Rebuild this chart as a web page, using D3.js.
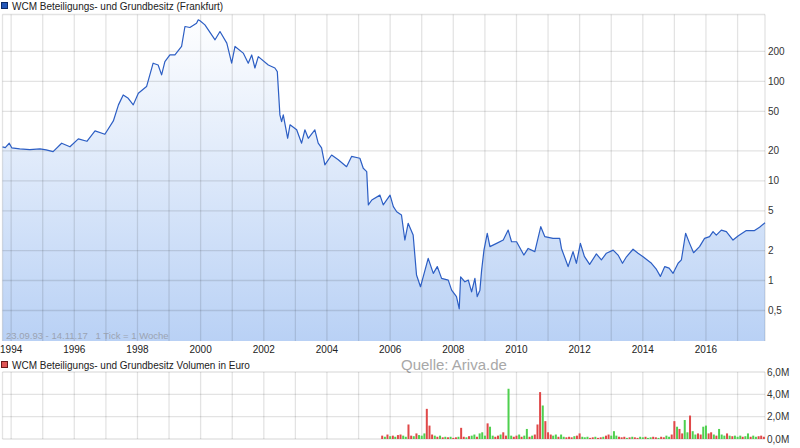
<!DOCTYPE html>
<html><head><meta charset="utf-8">
<script src="https://cdn.jsdelivr.net/npm/d3@7"></script>
<style>body{margin:0;background:#fff}svg{display:block;font-family:"Liberation Sans",Arial,sans-serif}</style>
</head><body><svg id="c" width="800" height="448"></svg>
<script>
// ---- data ----
const titleMain = "WCM Beteiligungs- und Grundbesitz (Frankfurt)";
const titleVol = "WCM Beteiligungs- und Grundbesitz Volumen in Euro";
const priceDates = ["1993-09-23","1993-10-25","1993-12-10","1994-01-08","1994-04-10","1994-08-05","1994-12-01","1995-02-10","1995-05-01","1995-08-08","1995-11-12","1996-02-17","1996-05-26","1996-08-28","1996-12-20","1997-03-28","1997-05-26","1997-07-20","1997-09-16","1997-11-13","1998-01-11","1998-04-16","1998-07-01","1998-08-28","1998-10-07","1998-11-14","1999-01-11","1999-03-10","1999-05-26","1999-07-04","1999-08-30","1999-11-15","1999-12-05","1999-12-25","2000-02-20","2000-06-16","2000-08-12","2000-10-30","2000-12-25","2001-02-02","2001-05-08","2001-07-05","2001-08-14","2001-09-20","2001-10-29","2002-02-22","2002-05-09","2002-06-06","2002-07-06","2002-07-26","2002-08-14","2002-10-04","2002-10-31","2003-01-16","2003-03-14","2003-04-21","2003-05-30","2003-08-14","2003-09-22","2003-10-31","2003-12-08","2004-02-24","2004-05-11","2004-08-15","2004-10-12","2005-01-16","2005-02-24","2005-04-05","2005-04-24","2005-06-03","2005-09-05","2005-10-13","2005-12-31","2006-02-07","2006-03-18","2006-05-12","2006-06-20","2006-07-28","2006-09-24","2006-11-02","2006-12-18","2007-01-18","2007-03-17","2007-05-15","2007-06-30","2007-08-19","2007-11-04","2007-12-13","2008-02-07","2008-03-10","2008-03-26","2008-05-15","2008-06-23","2008-07-31","2008-09-07","2008-10-04","2008-11-04","2008-11-24","2008-12-21","2009-01-28","2009-02-28","2009-05-16","2009-08-01","2009-09-27","2009-11-05","2010-01-02","2010-03-27","2010-05-16","2010-08-01","2010-10-09","2010-11-24","2011-02-28","2011-05-16","2011-06-05","2011-08-21","2011-10-17","2011-11-25","2012-01-10","2012-02-25","2012-04-26","2012-07-13","2012-09-09","2012-11-06","2013-01-23","2013-03-21","2013-05-11","2013-06-26","2013-09-10","2013-11-07","2014-01-04","2014-04-11","2014-06-08","2014-07-23","2014-09-12","2014-11-01","2014-12-17","2015-02-13","2015-03-23","2015-05-11","2015-06-26","2015-08-11","2015-10-19","2015-12-16","2016-02-12","2016-03-23","2016-04-30","2016-06-27","2016-08-24","2016-11-09","2017-01-06","2017-04-12","2017-07-16","2017-09-12","2017-11-14"];
const priceValues = [22,21.6,23.9,21.5,21,20.6,21,20.5,19.7,23.9,22,26.4,25,31.8,29.4,40,58,73,67.5,58,76,88.6,152,146,116,158,184,184,224,355,347,383,415,406,369,261,316,242,152,224,192,152,184,136,177,146,136,125,46,39.4,46,26.8,36.6,32.6,23.9,32.6,26.8,32.6,23.9,21.5,14.5,18.2,16.3,13.9,17.6,16.9,13.4,12.4,5.74,6.43,7.2,5.74,7.2,5.52,4.9,4.55,2.55,3.75,2.86,1.135,0.866,1.09,1.67,1.18,1.38,1.05,1.01,0.8,0.69,0.52,1.09,0.97,1.01,0.77,1.05,0.69,0.8,1.27,2.02,2.98,2.19,2.36,2.55,3.21,2.45,2.45,1.8,2.1,1.95,3.47,2.76,2.65,2.65,2.1,1.38,1.95,1.49,2.36,1.75,1.45,1.85,1.61,1.88,2.02,1.8,1.49,1.73,2.06,1.88,1.73,1.49,1.29,1.1,1.38,1.33,1.18,1.49,1.61,2.98,2.36,1.9,2.19,2.65,2.76,3.1,2.86,3.21,3.1,2.55,2.8,3.17,3.17,3.43,3.8];
// monthly volume (Mio. Euro), starting 2005-10
const volStart = "2005-10-01";
const volValues = [0.3,0.2,0.4,0.25,0.3,0.2,0.35,0.4,0.3,0.2,1.3,0.3,0.25,0.5,0.35,0.3,0.5,2.7,1.2,0.4,0.3,0.2,0.3,0.15,0.2,0.15,0.2,0.1,0.15,0.2,1.0,0.2,0.15,0.25,0.3,0.4,0.2,0.5,0.6,0.3,1.4,1.1,0.3,0.2,0.3,0.4,0.6,0.3,4.5,0.3,0.2,0.3,0.4,0.2,0.3,0.9,0.2,0.3,0.4,1.3,4.2,3.0,1.6,0.6,0.4,0.3,0.4,0.2,0.4,0.2,0.15,0.2,0.15,0.25,0.3,0.5,0.2,0.15,0.2,0.1,0.15,0.2,0.1,0.15,0.2,0.3,0.4,0.3,0.7,0.3,0.2,0.15,0.2,0.1,0.15,0.2,0.15,0.1,0.2,0.15,0.2,0.1,0.15,0.2,0.15,0.1,0.2,0.15,0.3,0.2,0.4,1.6,1.1,0.9,0.5,1.7,0.6,2.1,0.7,0.4,0.5,0.4,1.1,1.2,0.5,0.6,0.4,0.3,0.9,0.4,0.3,0.5,0.3,0.25,0.3,0.2,0.3,0.2,0.25,0.5,0.2,0.3,0.2,0.25,0.3,0.2];
const volDir = "dudududduudduduuudddududududdudduduuduuuduuddudduudduduududdduddduuduudddudduuudduddudduuudddududduuduuddudduuddudduuduudduudduduuududuuuduuduu";
const yTickValues = [0.5,1,2,5,10,20,50,100,200];
const yTickLabels = ["0,5","1","2","5","10","20","50","100","200"];
const xLabelYears = [1994,1996,1998,2000,2002,2004,2006,2008,2010,2012,2014,2016];
const volTickValues = [0,2,4,6];
const volTickLabels = ["0,0M","2,0M","4,0M","6,0M"];
const infoText = "23.09.93 - 14.11.17   1 Tick = 1 Woche";
const sourceText = "Quelle: Ariva.de";

// ---- chart ----
const parse = d3.timeParse("%Y-%m-%d");
const prices = priceDates.map((d,i)=>({date:parse(d), v:priceValues[i]}));
const vStart = parse(volStart);
const vols = volValues.map((v,i)=>({date:d3.timeMonth.offset(vStart,i), v:v, up: volDir[i]==="u"}));

const svg = d3.select("#c");
const L = 2.5, R = 765, T = 14.5, B = 341;
const VT = 372, VB = 439;
const x = d3.scaleTime().domain([parse("1993-09-23"), parse("2017-11-14")]).range([L,R]);
const y = d3.scaleLog().domain([0.247, 468.6]).range([B,T]);
const yv = d3.scaleLinear().domain([0,6]).range([VB,VT]);
const years = d3.range(1994,2018).map(yr=>new Date(yr,0,1));

const defs = svg.append("defs");
const grad = defs.append("linearGradient").attr("id","g").attr("gradientUnits","userSpaceOnUse")
  .attr("x1",0).attr("x2",0).attr("y1",T).attr("y2",B);
grad.append("stop").attr("offset","0%").attr("stop-color","#ffffff");
grad.append("stop").attr("offset","100%").attr("stop-color","#b9d1f5");

// area
const area = d3.area().x(d=>x(d.date)).y0(B).y1(d=>y(d.v));
svg.append("path").datum(prices).attr("d",area).attr("fill","url(#g)");

// grid main
const gc = "rgba(0,0,0,0.11)";
const gm = svg.append("g").attr("stroke",gc).attr("stroke-width",1.3).attr("fill","none");
gm.selectAll("line.v").data(years).join("line").attr("x1",d=>x(d)).attr("x2",d=>x(d)).attr("y1",T).attr("y2",B);
gm.selectAll("line.h").data(yTickValues).join("line").attr("x1",L).attr("x2",R).attr("y1",d=>y(d)).attr("y2",d=>y(d));
gm.append("line").attr("x1",L).attr("x2",R).attr("y1",T).attr("y2",T);
gm.append("line").attr("x1",L).attr("x2",L).attr("y1",T).attr("y2",B);
gm.append("line").attr("x1",R).attr("x2",R).attr("y1",T).attr("y2",B);

// line
const line = d3.line().x(d=>x(d.date)).y(d=>y(d.v));
svg.append("path").datum(prices).attr("d",line).attr("fill","none").attr("stroke","#2c5ec4").attr("stroke-width",1.2).attr("stroke-linejoin","round");

// y labels
svg.append("g").selectAll("text").data(yTickValues).join("text")
  .attr("x",768).attr("y",d=>y(d)).attr("dy","0.35em").attr("font-size",10).attr("fill","#333")
  .text((d,i)=>yTickLabels[i]);
// x labels
svg.append("g").selectAll("text").data(xLabelYears).join("text")
  .attr("x",d=>x(new Date(d,0,1))).attr("y",353).attr("text-anchor","middle").attr("font-size",10).attr("fill","#222")
  .text(d=>d);
// info
svg.append("text").attr("x",6).attr("y",338.5).attr("font-size",9.5).attr("fill","#9aa3b2").style("white-space","pre").text(infoText);
// legend main
svg.append("rect").attr("x",1.5).attr("y",2.5).attr("width",6).attr("height",6).attr("fill","#2457b8").attr("stroke","#0d2a66").attr("stroke-width",1);
svg.append("text").attr("x",12).attr("y",9.5).attr("font-size",10).attr("fill","#222").text(titleMain);

// volume panel
svg.append("rect").attr("x",1.5).attr("y",361.5).attr("width",6).attr("height",6).attr("fill","#e05555").attr("stroke","#6a1a1a").attr("stroke-width",1);
svg.append("text").attr("x",12).attr("y",368.5).attr("font-size",10).attr("fill","#222").text(titleVol);
svg.append("text").attr("x",401).attr("y",370).attr("font-size",15).attr("fill","#a8a8a8").text(sourceText);

const gv = svg.append("g").attr("stroke",gc).attr("stroke-width",1.3);
gv.selectAll("line.v").data(years).join("line").attr("x1",d=>x(d)).attr("x2",d=>x(d)).attr("y1",VT).attr("y2",VB);
gv.selectAll("line.h").data(volTickValues).join("line").attr("x1",L).attr("x2",R).attr("y1",d=>yv(d)).attr("y2",d=>yv(d));
gv.append("line").attr("x1",L).attr("x2",L).attr("y1",VT).attr("y2",VB);
gv.append("line").attr("x1",R).attr("x2",R).attr("y1",VT).attr("y2",VB);

svg.append("g").selectAll("rect").data(vols).join("rect")
  .attr("x",d=>x(d.date)-1).attr("width",2)
  .attr("y",d=>yv(d.v)).attr("height",d=>VB-yv(d.v))
  .attr("fill",d=>d.up?"#4fd04f":"#e04848");

svg.append("g").selectAll("text").data(volTickValues).join("text")
  .attr("x",767).attr("y",d=>yv(d)).attr("dy","0.35em").attr("font-size",10).attr("fill","#333")
  .text((d,i)=>volTickLabels[i]);
</script></body></html>
